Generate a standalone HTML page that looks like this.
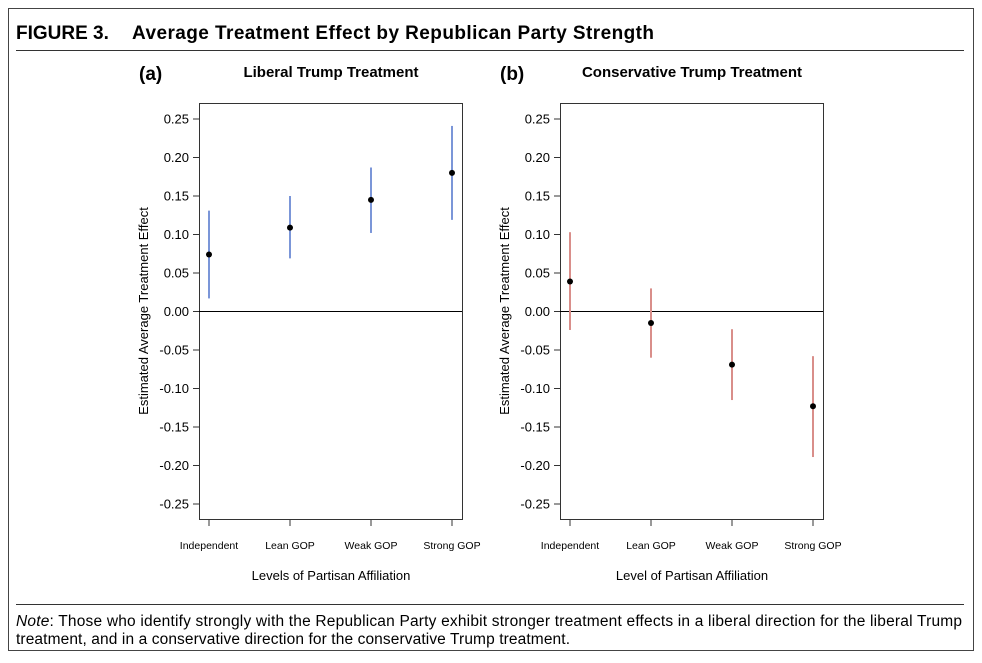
<!DOCTYPE html>
<html><head><meta charset="utf-8"><style>
html,body{margin:0;padding:0;background:#fff;}
body{width:982px;height:658px;overflow:hidden;font-family:"Liberation Sans",Arial,sans-serif;}
</style></head><body>
<svg id="fig" width="982" height="658" xmlns="http://www.w3.org/2000/svg" font-family="Liberation Sans, Arial, sans-serif">
<rect x="8.5" y="8.5" width="965" height="642" fill="none" stroke="#444" stroke-width="1"/>
<text x="16" y="39" font-size="19" font-weight="bold" fill="#000">FIGURE 3.</text>
<text x="132" y="39" font-size="19" font-weight="bold" fill="#000" textLength="522">Average Treatment Effect by Republican Party Strength</text>
<line x1="16" y1="50.5" x2="964" y2="50.5" stroke="#333"/>
<line x1="16" y1="604.5" x2="964" y2="604.5" stroke="#333"/>
<text x="16" y="626" font-size="15.5" fill="#000" textLength="946" lengthAdjust="spacing"><tspan font-style="italic">Note</tspan>: Those who identify strongly with the Republican Party exhibit stronger treatment effects in a liberal direction for the liberal Trump</text>
<text x="16" y="644" font-size="15.5" fill="#000" textLength="554">treatment, and in a conservative direction for the conservative Trump treatment.</text>
<g id="panels"></g>
</svg>
<script>
const categories = ["Independent","Lean GOP","Weak GOP","Strong GOP"];
const yTicks = [0.25,0.20,0.15,0.10,0.05,0.00,-0.05,-0.10,-0.15,-0.20,-0.25];
const yTickLabels = ["0.25","0.20","0.15","0.10","0.05","0.00","-0.05","-0.10","-0.15","-0.20","-0.25"];
const libEst = [0.074,0.109,0.145,0.180];
const libLo = [0.017,0.069,0.102,0.119];
const libHi = [0.131,0.150,0.187,0.241];
const conEst = [0.039,-0.015,-0.069,-0.123];
const conLo = [-0.024,-0.060,-0.115,-0.189];
const conHi = [0.103,0.030,-0.023,-0.058];

const NS="http://www.w3.org/2000/svg";
const root=document.getElementById('panels');
function mk(tag,attrs,parent,text){const e=document.createElementNS(NS,tag);for(const k in attrs)e.setAttribute(k,attrs[k]);if(text!==undefined)e.textContent=text;parent.appendChild(e);return e;}
function yScale(v){return 311.5-(v/0.25)*192.5;}

function panel(id,x0,label,title,xTitle,est,lo,hi,color){
  const g=mk('g',{},root);
  
  
  const left=x0, right=x0+263, top=103, bottom=519;
  const xPos=i=>left+10+i*81;
  let t=mk('text',{x:left-60,y:80,'font-size':19,'font-weight':'bold'},g,label);
  
  
  t=mk('text',{x:left+132,y:77,'font-size':15,'font-weight':'bold','text-anchor':'middle'},g,title);
  
  
  let r=mk('rect',{x:left+0.5,y:top+0.5,width:right-left,height:bottom-top,fill:'none',stroke:'#333'},g);
  
  
  let z=mk('line',{x1:left,x2:right,y1:yScale(0),y2:yScale(0),stroke:'#000'},g);
  
  
  yTicks.forEach((v,i)=>{
    const y=yScale(v);
    let l=mk('line',{x1:left-6,x2:left,y1:y,y2:y,stroke:'#333'},g);
    
    
    let tx=mk('text',{x:left-10,y:y+4.5,'font-size':13,'text-anchor':'end'},g,yTickLabels[i]);
    
    
  });
  categories.forEach((c,i)=>{
    const x=xPos(i);
    let l=mk('line',{x1:x,x2:x,y1:bottom,y2:bottom+7,stroke:'#333'},g);
    
    
    let tx=mk('text',{x:x,y:549,'font-size':10.5,'text-anchor':'middle'},g,c);
    
    
    let ci=mk('line',{x1:x,x2:x,y1:yScale(hi[i]),y2:yScale(lo[i]),stroke:color,'stroke-width':2},g);
    
    
    let p=mk('circle',{cx:x,cy:yScale(est[i]),r:3,fill:'#000'},g);
    
    
  });
  t=mk('text',{x:left+132,y:580,'font-size':13,'text-anchor':'middle'},g,xTitle);
  
  
  const yx=left-51, yy=311;
  t=mk('text',{x:yx,y:yy,'font-size':13,'text-anchor':'middle',transform:`rotate(-90 ${yx} ${yy})`},g,'Estimated Average Treatment Effect');
  
  
}
panel('a',199,'(a)','Liberal Trump Treatment','Levels of Partisan Affiliation',libEst,libLo,libHi,'#7b96d8');
panel('b',560,'(b)','Conservative Trump Treatment','Level of Partisan Affiliation',conEst,conLo,conHi,'#d98e8a');
</script>
</body></html>
